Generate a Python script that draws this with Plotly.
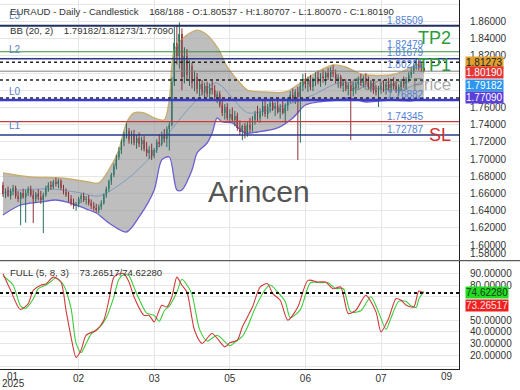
import plotly.graph_objects as go

# ---------------- data ----------------
opens = [1.6700, 1.6590, 1.6640, 1.6575, 1.6630, 1.6660, 1.6570, 1.6530, 1.6600, 1.6560,
         1.6610, 1.6650, 1.6580, 1.6540, 1.6590, 1.6560, 1.6520, 1.6580, 1.6660, 1.6700,
         1.6670, 1.6730, 1.6710, 1.6745, 1.6660, 1.6620, 1.6580, 1.6530, 1.6490, 1.6450,
         1.6480, 1.6530, 1.6570, 1.6520, 1.6540, 1.6490, 1.6450, 1.6430, 1.6410, 1.6440,
         1.6490, 1.6580, 1.6650, 1.6740, 1.6810, 1.6920, 1.7020, 1.7110, 1.7200, 1.7290,
         1.7330, 1.7220, 1.7290, 1.7190, 1.7250, 1.7170, 1.7220, 1.7120, 1.7070, 1.7110,
         1.7040, 1.7100, 1.7200, 1.7170, 1.7280, 1.7230, 1.7350, 1.7400, 1.7900, 1.8350,
         1.8200, 1.8450, 1.7950, 1.8200, 1.7980, 1.8080, 1.7880, 1.7960, 1.7820, 1.7870,
         1.7780, 1.7850, 1.7760, 1.7830, 1.7800, 1.7720, 1.7760, 1.7630, 1.7540, 1.7600,
         1.7480, 1.7530, 1.7460, 1.7500, 1.7360, 1.7310, 1.7380, 1.7290, 1.7400, 1.7350,
         1.7460, 1.7530, 1.7480, 1.7550, 1.7620, 1.7520, 1.7600, 1.7650, 1.7580, 1.7620,
         1.7550, 1.7590, 1.7540, 1.7620, 1.7690, 1.7750, 1.7700, 1.7780, 1.7720, 1.7850,
         1.7930, 1.7870, 1.7920, 1.7840, 1.7910, 1.7960, 1.7900, 1.7970, 1.7940, 1.8000,
         1.7960, 1.8040, 1.7990, 1.7910, 1.7950, 1.7850, 1.7880, 1.7820, 1.7860, 1.7790,
         1.7830, 1.7870, 1.7930, 1.7880, 1.7940, 1.7900, 1.7840, 1.7880, 1.7800, 1.7780,
         1.7820, 1.7850, 1.7810, 1.7870, 1.7830, 1.7880, 1.7850, 1.7800, 1.7840, 1.7900,
         1.7870, 1.7930, 1.7980, 1.8030, 1.8090, 1.8140, 1.8060, 1.80537]
highs = [1.6735, 1.6660, 1.6680, 1.6655, 1.6700, 1.6690, 1.6625, 1.6620, 1.6655, 1.6640,
         1.6680, 1.6690, 1.6640, 1.6620, 1.6650, 1.6630, 1.6610, 1.6690, 1.6730, 1.6745,
         1.6760, 1.6785, 1.6770, 1.6765, 1.6700, 1.6660, 1.6620, 1.6580, 1.6540, 1.6500,
         1.6560, 1.6600, 1.6610, 1.6570, 1.6580, 1.6530, 1.6500, 1.6480, 1.6470, 1.6520,
         1.6600, 1.6680, 1.6760, 1.6840, 1.6950, 1.7050, 1.7140, 1.7230, 1.7320, 1.7420,
         1.7360, 1.7330, 1.7340, 1.7280, 1.7310, 1.7260, 1.7270, 1.7200, 1.7150, 1.7180,
         1.7130, 1.7230, 1.7290, 1.7320, 1.7350, 1.7380, 1.7430, 1.7950, 1.8540, 1.8560,
         1.8590, 1.8520, 1.8300, 1.8280, 1.8150, 1.8120, 1.8030, 1.8000, 1.7930, 1.7920,
         1.7890, 1.7900, 1.7880, 1.7910, 1.7860, 1.7790, 1.7790, 1.7700, 1.7640, 1.7650,
         1.7580, 1.7600, 1.7560, 1.7540, 1.7450, 1.7400, 1.7420, 1.7430, 1.7480, 1.7500,
         1.7560, 1.7620, 1.7590, 1.7680, 1.7690, 1.7640, 1.7700, 1.7720, 1.7660, 1.7700,
         1.7640, 1.7680, 1.7650, 1.7720, 1.7790, 1.7820, 1.7810, 1.7840, 1.7900, 1.7990,
         1.8000, 1.7960, 1.7980, 1.7950, 1.8010, 1.8030, 1.8000, 1.8040, 1.8020, 1.8060,
         1.8070, 1.8095, 1.8040, 1.7990, 1.7980, 1.7920, 1.7930, 1.7890, 1.7910, 1.7880,
         1.7900, 1.7960, 1.7990, 1.7970, 1.8000, 1.7960, 1.7920, 1.7910, 1.7860, 1.7850,
         1.7890, 1.7920, 1.7900, 1.7940, 1.7910, 1.7950, 1.7900, 1.7870, 1.7930, 1.7960,
         1.7950, 1.8010, 1.8060, 1.8120, 1.8176, 1.8160, 1.8110, 1.80707]
lows = [1.6560, 1.6545, 1.6560, 1.6530, 1.6580, 1.6540, 1.6500, 1.6230, 1.6540, 1.6260,
        1.6570, 1.6560, 1.6255, 1.6490, 1.6520, 1.6480, 1.6140, 1.6560, 1.6620, 1.6640,
        1.6650, 1.6680, 1.6660, 1.6640, 1.6590, 1.6560, 1.6500, 1.6460, 1.6420, 1.6400,
        1.6440, 1.6490, 1.6500, 1.6470, 1.6460, 1.6420, 1.6400, 1.6380, 1.6370, 1.6410,
        1.6470, 1.6550, 1.6620, 1.6700, 1.6790, 1.6880, 1.6990, 1.7060, 1.7150, 1.7240,
        1.7180, 1.7170, 1.7160, 1.7120, 1.7140, 1.7100, 1.7090, 1.7030, 1.7000, 1.6990,
        1.7010, 1.7070, 1.7140, 1.7150, 1.7190, 1.7140, 1.7100, 1.7380, 1.7850, 1.8100,
        1.8050, 1.7800, 1.7880, 1.7920, 1.7850, 1.7820, 1.7790, 1.7760, 1.7730, 1.7740,
        1.7700, 1.7720, 1.7700, 1.7750, 1.7680, 1.7650, 1.7600, 1.7500, 1.7460, 1.7450,
        1.7420, 1.7430, 1.7380, 1.7330, 1.7280, 1.7220, 1.7240, 1.7260, 1.7310, 1.7320,
        1.7400, 1.7440, 1.7420, 1.7500, 1.7490, 1.7470, 1.7540, 1.7560, 1.7500, 1.7530,
        1.7470, 1.7520, 1.7420, 1.7560, 1.7650, 1.7660, 1.7640, 1.6990, 1.7190, 1.7790,
        1.7820, 1.7780, 1.7800, 1.7790, 1.7850, 1.7870, 1.7840, 1.7890, 1.7860, 1.7920,
        1.7930, 1.7950, 1.7880, 1.7830, 1.7820, 1.7780, 1.7790, 1.7740, 1.7220, 1.7730,
        1.7760, 1.7820, 1.7850, 1.7830, 1.7860, 1.7810, 1.7780, 1.7760, 1.7740, 1.7606,
        1.7760, 1.7780, 1.7750, 1.7800, 1.7770, 1.7810, 1.7770, 1.7740, 1.7790, 1.7830,
        1.7820, 1.7890, 1.7940, 1.7990, 1.8040, 1.8030, 1.8010, 1.80070]
closes = [1.6590, 1.6640, 1.6575, 1.6630, 1.6660, 1.6570, 1.6530, 1.6600, 1.6560, 1.6610,
          1.6650, 1.6580, 1.6540, 1.6590, 1.6560, 1.6520, 1.6580, 1.6660, 1.6700, 1.6670,
          1.6730, 1.6710, 1.6745, 1.6660, 1.6620, 1.6580, 1.6530, 1.6490, 1.6450, 1.6480,
          1.6530, 1.6570, 1.6520, 1.6540, 1.6490, 1.6450, 1.6430, 1.6410, 1.6440, 1.6490,
          1.6580, 1.6650, 1.6740, 1.6810, 1.6920, 1.7020, 1.7110, 1.7200, 1.7290, 1.7330,
          1.7220, 1.7290, 1.7190, 1.7250, 1.7170, 1.7220, 1.7120, 1.7070, 1.7110, 1.7040,
          1.7100, 1.7200, 1.7170, 1.7280, 1.7230, 1.7350, 1.7400, 1.7900, 1.8350, 1.8200,
          1.8450, 1.7950, 1.8200, 1.7980, 1.8080, 1.7880, 1.7960, 1.7820, 1.7870, 1.7780,
          1.7850, 1.7760, 1.7830, 1.7800, 1.7720, 1.7760, 1.7630, 1.7540, 1.7600, 1.7480,
          1.7530, 1.7460, 1.7500, 1.7360, 1.7310, 1.7380, 1.7290, 1.7400, 1.7350, 1.7460,
          1.7530, 1.7480, 1.7550, 1.7620, 1.7520, 1.7600, 1.7650, 1.7580, 1.7620, 1.7550,
          1.7590, 1.7540, 1.7620, 1.7690, 1.7750, 1.7700, 1.7780, 1.7720, 1.7850, 1.7930,
          1.7870, 1.7920, 1.7840, 1.7910, 1.7960, 1.7900, 1.7970, 1.7940, 1.8000, 1.7960,
          1.8040, 1.7990, 1.7910, 1.7950, 1.7850, 1.7880, 1.7820, 1.7860, 1.7790, 1.7830,
          1.7870, 1.7930, 1.7880, 1.7940, 1.7900, 1.7840, 1.7880, 1.7800, 1.7780, 1.7820,
          1.7850, 1.7810, 1.7870, 1.7830, 1.7880, 1.7850, 1.7800, 1.7840, 1.7900, 1.7870,
          1.7930, 1.7980, 1.8030, 1.8090, 1.8140, 1.8060, 1.8054, 1.80190]

# x-axis month labels (bar index -> label)
month_ticks = [30, 60, 90, 120, 150]
month_labels = ["02", "03", "05", "06", "07"]
first_label = "01"
first_year = "2025"
last_label = "09"

# Bollinger bands (20, 2), sampled at bar indices
bb_upper_x = [0, 11, 23, 34, 38, 42, 46, 49, 52, 56, 60, 64, 66, 68, 72, 77, 80, 85, 89, 93,
              97, 104, 112, 118, 124, 131, 136, 142, 154, 158, 162, 167]
bb_upper = [1.6838, 1.6792, 1.6780, 1.6734, 1.6722, 1.6873, 1.7106, 1.7420, 1.7536, 1.7536,
            1.7478, 1.7455, 1.7687, 1.8269, 1.8420, 1.8500, 1.8466, 1.8303, 1.8071, 1.7920,
            1.7803, 1.7780, 1.7780, 1.7885, 1.8001, 1.8094, 1.8071, 1.7990, 1.7978, 1.8013,
            1.8071, 1.81273]
bb_lower_x = [0, 7, 15, 21, 25, 31, 34, 37, 42, 49, 54, 60, 63, 66, 69, 71, 75, 77, 81, 83,
              85, 87, 91, 96, 101, 109, 115, 120, 125, 133, 137, 144, 154, 162, 167]
bb_lower = [1.6350, 1.6466, 1.6501, 1.6524, 1.6501, 1.6443, 1.6408, 1.6373, 1.6257, 1.6152,
            1.6327, 1.6641, 1.6990, 1.7024, 1.6641, 1.6641, 1.6873, 1.7070, 1.7187, 1.7303,
            1.7478, 1.7431, 1.7420, 1.7303, 1.7315, 1.7362, 1.7478, 1.7629, 1.7664, 1.7687,
            1.7710, 1.7664, 1.7687, 1.7676, 1.77090]
bb_mid_x = [0, 7, 19, 26, 31, 38, 49, 59, 67, 75, 84, 87, 90, 97, 104, 116, 123, 133, 140,
            145, 158, 167]
bb_mid = [1.6606, 1.6641, 1.6652, 1.6629, 1.6606, 1.6570, 1.6760, 1.7040, 1.7350, 1.7630,
          1.7885, 1.7845, 1.7745, 1.7540, 1.7560, 1.7664, 1.7745, 1.7885, 1.7885, 1.7838,
          1.7803, 1.79182]

# Full stochastic (5, 8, 3)
stoch_k_x = [0, 3, 6, 7, 10, 12, 15, 17, 20, 23, 25, 27, 29, 31, 33, 37, 40, 42, 44, 46, 48,
             50, 52, 56, 58, 60, 63, 65, 67, 69, 71, 73, 76, 79, 83, 88, 90, 93, 95, 99, 102,
             105, 107, 110, 113, 117, 121, 125, 128, 131, 134, 137, 140, 144, 148, 150, 153,
             156, 158, 160, 163, 165, 167]
stoch_k = [89.7, 75.5, 61.2, 59.0, 64.0, 75.5, 79.8, 81.0, 86.8, 82.6, 58.4, 35.6, 18.0, 24.3,
           37.0, 41.3, 49.9, 67.0, 86.8, 89.7, 89.7, 82.6, 69.8, 54.0, 54.0, 48.4, 62.7, 61.2,
           69.8, 86.8, 79.8, 74.0, 41.3, 30.0, 38.5, 27.0, 30.5, 32.8, 44.2, 61.2, 78.3, 81.2,
           72.7, 67.0, 49.9, 61.2, 84.0, 82.6, 82.6, 76.9, 78.3, 55.6, 58.4, 71.2, 57.0, 39.9,
           51.3, 68.4, 67.0, 62.7, 61.2, 74.9, 73.26517]
stoch_d_x = [0, 4, 7, 9, 12, 14, 17, 19, 21, 24, 27, 29, 31, 33, 35, 38, 41, 44, 46, 48, 50,
             52, 54, 57, 60, 62, 64, 66, 69, 71, 73, 75, 78, 81, 85, 90, 92, 95, 97, 100, 104,
             106, 109, 112, 114, 118, 122, 126, 129, 132, 135, 138, 142, 146, 149, 152, 154,
             157, 160, 162, 164, 165, 167]
stoch_d = [88.0, 80.0, 62.0, 60.0, 68.0, 77.0, 80.0, 83.0, 86.0, 80.0, 60.0, 30.0, 22.0, 30.0,
           38.0, 43.0, 52.0, 70.0, 85.0, 89.0, 88.0, 78.0, 68.0, 56.0, 54.0, 49.0, 58.0, 62.0,
           74.0, 85.0, 80.0, 72.0, 42.0, 32.0, 37.0, 28.0, 31.0, 36.0, 44.0, 60.0, 76.0, 80.0,
           74.0, 66.0, 52.0, 59.0, 82.0, 82.0, 82.0, 77.0, 77.0, 57.0, 58.0, 70.0, 57.0, 42.0,
           52.0, 66.0, 66.0, 62.0, 61.0, 68.0, 74.62280]

# horizontal price levels
level_values = [1.85509, 1.82479, 1.81679, 1.80221, 1.76882, 1.74345, 1.72787]
level_names = ["L3", "TP2", "L2", "TP1", "L0", "SL", "L1"]

price_ticks = [1.60, 1.62, 1.64, 1.66, 1.68, 1.70, 1.72, 1.74, 1.76, 1.78, 1.80, 1.82,
               1.84, 1.86, 1.88]
price_hidden = [1.78, 1.80]          # covered by the value boxes in the reference
stoch_ticks = [10, 20, 30, 40, 50, 60, 70, 80, 90, 100]
stoch_hidden = [10, 60, 70, 100]

# ---------------- styling / layout helpers ----------------
FONT = "Liberation Sans, Arial, sans-serif"
PLOT_R = 459.0     # px, right edge of plot area
PLOT_B = 369.0     # px, bottom edge of plot area
SEP = 260.7        # px, panel separator


def px(x):
    return x / PLOT_R


def py(y):
    return (PLOT_B - y) / PLOT_B


n = len(closes)
idx = list(range(n))
UP = "#2e9c7e"
DN = "#d2414b"
UP_W = "#2a6f60"
DN_W = "#8c3036"

fig = go.Figure()

# Bollinger band area
fig.add_trace(go.Scatter(x=bb_lower_x, y=bb_lower, mode="lines",
                         line=dict(color="#6b5fd3", width=1.3, shape="spline", smoothing=0.8),
                         hoverinfo="skip", xaxis="x", yaxis="y"))
fig.add_trace(go.Scatter(x=bb_upper_x, y=bb_upper, mode="lines", fill="tonexty",
                         fillcolor="rgba(150,150,150,0.62)",
                         line=dict(color="#c9ad6e", width=1.4, shape="spline", smoothing=0.8),
                         hoverinfo="skip", xaxis="x", yaxis="y"))
fig.add_trace(go.Scatter(x=bb_mid_x, y=bb_mid, mode="lines",
                         line=dict(color="#7f9cc0", width=1, shape="spline", smoothing=0.8),
                         hoverinfo="skip", xaxis="x", yaxis="y"))

# candle wicks (up and down separately)
for want_up, col in [(True, UP_W), (False, DN_W)]:
    wx, wy = [], []
    for i in idx:
        if (closes[i] >= opens[i]) == want_up:
            wx += [i, i, None]
            wy += [lows[i], highs[i], None]
    fig.add_trace(go.Scatter(x=wx, y=wy, mode="lines", line=dict(color=col, width=1),
                             hoverinfo="skip", xaxis="x", yaxis="y"))
# candle bodies
fig.add_trace(go.Bar(x=idx,
                     y=[max(abs(closes[i] - opens[i]), 0.0004) for i in idx],
                     base=[min(opens[i], closes[i]) for i in idx],
                     marker=dict(color=[UP if closes[i] >= opens[i] else DN for i in idx],
                                 line=dict(width=0)),
                     width=0.75, hoverinfo="skip", xaxis="x", yaxis="y"))

# stochastic
fig.add_trace(go.Scatter(x=stoch_d_x, y=stoch_d, mode="lines",
                         line=dict(color="#3ccc3c", width=1.1, shape="spline", smoothing=0.7),
                         hoverinfo="skip", xaxis="x", yaxis="y2"))
fig.add_trace(go.Scatter(x=stoch_k_x, y=stoch_k, mode="lines",
                         line=dict(color="#d03a3a", width=1.1, shape="spline", smoothing=0.7),
                         hoverinfo="skip", xaxis="x", yaxis="y2"))

shapes = []
level_style = {
    "L3": ("#1f2f5f", 2.0), "TP2": ("#3c8c3c", 1.2), "L2": ("#2a3a8a", 1.5),
    "TP1": ("#808080", 1.0), "L0": ("#3a3ad0", 2.5), "SL": ("#c83c3c", 1.2),
    "L1": ("#2a3a8a", 1.5),
}
for v, name in zip(level_values, level_names):
    c, w = level_style[name]
    shapes.append(dict(type="line", xref="x domain", x0=0, x1=1, yref="y", y0=v, y1=v,
                       line=dict(color=c, width=w), layer="above"))
for v in [bb_upper[-1], bb_mid[-1], bb_lower[-1]]:
    shapes.append(dict(type="line", xref="x domain", x0=0, x1=1, yref="y", y0=v, y1=v,
                       line=dict(color="#222222", width=1.5, dash="3px,3px"), layer="above"))
shapes.append(dict(type="line", xref="x domain", x0=0, x1=1, yref="y2",
                   y0=stoch_k[-1], y1=stoch_k[-1],
                   line=dict(color="#111111", width=2, dash="dot"), layer="above"))
shapes.append(dict(type="line", xref="paper", x0=0, x1=520 / PLOT_R, yref="paper",
                   y0=py(SEP), y1=py(SEP), line=dict(color="#333333", width=1), layer="above"))

ann = []


def text(x, y, s, size=10, color="#333333", xanchor="left", **kw):
    ann.append(dict(x=px(x), y=py(y), xref="paper", yref="paper", text=s, showarrow=False,
                    xanchor=xanchor, yanchor="middle",
                    font=dict(family=FONT, size=size, color=color), **kw))


NB = "\u00a0"
text(8, 12, "EURAUD - Daily - Candlestick" + NB * 4 + f"{n}/188 - O:{opens[-1]:.5f} - "
     f"H:{highs[-1]:.5f} - L:{lows[-1]:.5f} - C:{closes[-1]:.5f}", size=9.6)
text(8, 30, "BB (20, 2)" + NB * 4 + f"{bb_mid[-1]:.5f}/{bb_upper[-1]:.5f}/{bb_lower[-1]:.5f}",
     size=9.6)
text(8, 273, "FULL (5, 8, 3)" + NB * 4 + f"{stoch_k[-1]:.5f}/{stoch_d[-1]:.5f}", size=9.6)

# level names on left
LBLUE = "#5b7fc7"
text(7, 15, "L3", size=10, color=LBLUE)
text(7, 50, "L2", size=10, color=LBLUE)
text(7, 91, "L0", size=10, color=LBLUE)
text(7, 126, "L1", size=10, color=LBLUE)

# level values on right
VBLUE = "#4f7fd6"
for v, y in zip(level_values, [20.5, 44.5, 52.5, 65, 95, 116, 129]):
    text(385, y, f"{v:.5f}", size=10, color=VBLUE)

text(453, 38.5, "TP2", size=18, color="#2a9a3a", xanchor="right")
text(453, 65, "TP1", size=18, color="#2a9a3a", xanchor="right")
text(453, 135, "SL", size=18, color="#d03030", xanchor="right")
text(453, 84.5, "Current Price", size=17, color="rgba(110,110,110,0.6)", xanchor="right")
text(259, 192, "Arincen", size=30, color="#555555", xanchor="center")

# axis value boxes
boxes = [(62, bb_upper[-1], "#e0a030", "#222222"),
         (73, closes[-1], "#e83535", "#ffffff"),
         (85.5, bb_mid[-1], "#2c96f0", "#ffffff"),
         (97, bb_lower[-1], "#5a3fd8", "#ffffff")]
for y, v, bg, fc in boxes:
    text(465, y, f"{v:.5f}", size=10, color=fc, bgcolor=bg, borderpad=0)
text(465, 292, f"{stoch_d[-1]:.5f}", size=10, color="#1a3a1a", bgcolor="#22dd22", borderpad=0)
text(465, 305, f"{stoch_k[-1]:.5f}", size=10, color="#ffe0e0", bgcolor="#ee2020", borderpad=0)

text(468, 253.5, "1.58000", size=10)
text(13, 376, first_label, size=10, xanchor="center")
text(13, 384, first_year, size=10, xanchor="center")
text(447, 376, last_label, size=10, xanchor="center")

x_lo = -3.0 / 2.52
x_hi = (PLOT_R - 3.0) / 2.52

fig.update_layout(
    width=520, height=390,
    margin=dict(l=0, r=520 - PLOT_R, t=0, b=390 - PLOT_B, autoexpand=False),
    paper_bgcolor="white", plot_bgcolor="white",
    showlegend=False, hovermode=False,
    font=dict(family=FONT, size=10, color="#333333"),
    xaxis=dict(domain=[0, 1], anchor="y2", range=[x_lo, x_hi], automargin=False,
               tickvals=month_ticks, ticktext=month_labels, ticks="", showgrid=True,
               gridcolor="#e6e6e6", gridwidth=1, zeroline=False, showline=True,
               linecolor="#222222", linewidth=1, tickfont=dict(size=10, color="#333333"),
               ticklabelstandoff=0),
    yaxis=dict(domain=[py(SEP) + 0.002, 1], range=[1.58267, 1.885], side="right",
               anchor="x", automargin=False, tickvals=price_ticks,
               ticktext=["" if round(t, 2) in price_hidden else f"{t:.5f}" for t in price_ticks],
               showgrid=True, gridcolor="#e6e6e6", zeroline=False, showline=True,
               linecolor="#222222", linewidth=1, ticks="", ticklabelstandoff=8,
               tickfont=dict(size=10, color="#333333")),
    yaxis2=dict(domain=[0, py(SEP) - 0.002], range=[8.05, 100.24], side="right",
                anchor="x", automargin=False, tickvals=stoch_ticks,
                ticktext=["" if t in stoch_hidden else f"{t:.5f}" for t in stoch_ticks],
                showgrid=True, gridcolor="#e6e6e6", zeroline=False, showline=True,
                linecolor="#222222", linewidth=1, ticks="", ticklabelstandoff=8,
                tickfont=dict(size=10, color="#333333")),
    shapes=shapes, annotations=ann, bargap=0,
)

fig.write_html("out.html",
               config={"displayModeBar": False, "staticPlot": True},
               post_script="document.body.style.margin='0';"
                           "document.body.style.overflow='hidden';")
